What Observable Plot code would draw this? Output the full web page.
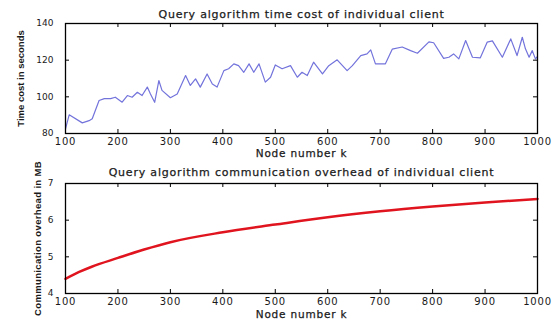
<!DOCTYPE html>
<html><head><meta charset="utf-8">
<script src="https://cdn.jsdelivr.net/npm/d3@7"></script>
<script src="https://cdn.jsdelivr.net/npm/@observablehq/plot@0.6"></script>
<style>
body{margin:0;background:#fff;}
#c svg{display:block}
</style></head><body><div id="c"></div>
<script>
// ---- data ----
const timeK = [100,107,132,145,151,164,174,186,195,208,218,227,237,246,256,262,270,278,284,300,313,329,338,348,357,370,380,389,402,411,421,430,440,450,459,469,481,491,500,513,529,542,551,561,573,590,602,618,637,647,663,675,682,691,710,723,742,758,771,793,802,821,831,840,850,863,876,891,904,914,933,949,961,971,977,984,990,996,1000];
const timeSec = [82.5,90.2,85.8,87,88,98,99,99,99.8,97.1,100.7,99.8,102.5,100.7,105.3,101.6,97,108.9,103.5,99.5,101.6,111.6,106.2,109.8,105.3,112.5,107,105.3,114.3,115.3,118,117,113.4,118,113.4,118,108,110.7,117.4,115.3,117,110.7,113.4,111.6,118.9,112.5,117,120.2,114.3,117,122.5,123.4,125.6,118,118,126,127.2,125.2,123.8,130,129.5,121,121.6,123.4,120.7,130.7,121.6,121.3,129.8,130.5,121.6,131.6,122.5,132.5,126.2,121.6,125.2,120.7,122];
const commK = [100,125,150,200,250,300,400,500,600,700,800,900,1000];
const commMB = [4.40,4.58,4.73,4.97,5.20,5.40,5.67,5.88,6.08,6.24,6.37,6.48,6.58];
const xTicks = [100,200,300,400,500,600,700,800,900,1000];
const timeTicks = [80,100,120,140];
const commTicks = [4,5,6,7];
const titleTop = "Query algorithm time cost of individual client";
const titleBottom = "Query algorithm communication overhead of individual client";
const xLabel = "Node number k";
const yLabelTop = "Time cost in seconds";
const yLabelBottom = "Communication overhead in MB";

const W = 557, ML = 65, MR = 20, FW = W - ML - MR, FH = 110;

function panel({h, mt, mb, xs, ys, curve, stroke, sw, yDomain, yTicks, title, titleDy, yLabel, yLabelDx, yLabelSpacing, tickPad, xLabelDy}) {
  const rows = xs.map((x, i) => ({x, y: ys[i]}));
  const svg = Plot.plot({
    width: W, height: h, marginTop: mt, marginBottom: mb, marginLeft: ML, marginRight: MR,
    style: {fontFamily: "DejaVu Sans", fontSize: "10px", background: "white", overflow: "visible", color: "#111", letterSpacing: "0.8px"},
    x: {domain: [100, 1000]},
    y: {domain: yDomain},
    marks: [
      Plot.line(rows, {x: "x", y: "y", stroke, strokeWidth: sw, curve}),
      Plot.tickX(xTicks, {x: d => d, insetTop: FH - 4, stroke: "#000"}),
      Plot.tickX(xTicks, {x: d => d, insetBottom: FH - 4, stroke: "#000"}),
      Plot.tickY(yTicks, {y: d => d, insetRight: FW - 4, stroke: "#000"}),
      Plot.tickY(yTicks, {y: d => d, insetLeft: FW - 4, stroke: "#000"}),
      Plot.frame({stroke: "#000", strokeWidth: 1.3}),
      Plot.axisX({ticks: xTicks, tickSize: 0, tickPadding: tickPad, tickFormat: d => String(d), label: null, fontSize: 10, fill: "#1a1a1a"}),
      Plot.axisY({ticks: yTicks, tickSize: 0, tickPadding: 12, tickFormat: d => String(d), label: null, fontSize: 9, fill: "#1a1a1a"}),
      Plot.text([xLabel], {text: d => d, frameAnchor: "bottom", dy: xLabelDy, fontSize: 10.5, fill: "#1a1a1a", stroke: "#1a1a1a", strokeWidth: 0.25}),
      Plot.text([title], {text: d => d, frameAnchor: "top", dy: titleDy, fontSize: 11, fill: "#1a1a1a", stroke: "#1a1a1a", strokeWidth: 0.25}),
      Plot.text([yLabel], {text: d => d, frameAnchor: "left", textAnchor: "middle", dx: yLabelDx, rotate: -90, fontSize: 9.5, fontWeight: "bold", fontFamily: "Liberation Sans", fill: "#1a1a1a"})
    ]
  });
  const s = d3.select(svg);
  s.selectAll("g[aria-label='y-axis tick label'] text").attr("letter-spacing", "0px");
  s.selectAll("text").filter(function() { return /rotate/.test(this.getAttribute("transform") || ""); })
    .attr("letter-spacing", yLabelSpacing);
  return svg;
}

const c = document.getElementById("c");
c.append(panel({h: 161, mt: 23, mb: 28, xs: timeK, ys: timeSec, curve: "linear", stroke: "#7373dc", sw: 1.2,
  yDomain: [80, 140], yTicks: timeTicks, title: titleTop, titleDy: -13, yLabel: yLabelTop, yLabelDx: -45, yLabelSpacing: "0px", tickPad: 4, xLabelDy: 23}));
c.append(panel({h: 162, mt: 22, mb: 30, xs: commK, ys: commMB, curve: "monotone-x", stroke: "#e0141e", sw: 2.5,
  yDomain: [4, 7], yTicks: commTicks, title: titleBottom, titleDy: -15, yLabel: yLabelBottom, yLabelDx: -28, yLabelSpacing: "0.35px", tickPad: 4, xLabelDy: 24}));
</script></body></html>
